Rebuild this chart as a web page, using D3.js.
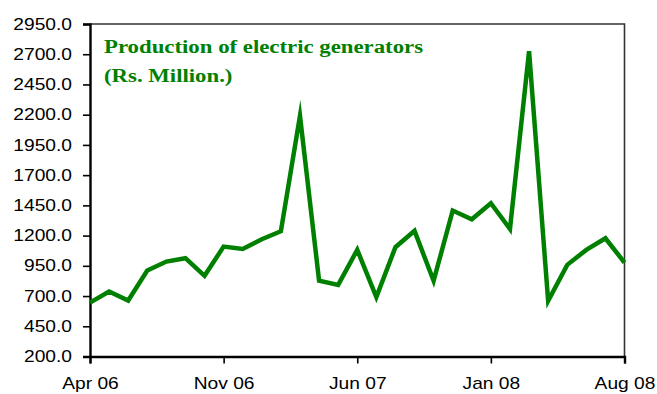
<!DOCTYPE html>
<html>
<head>
<meta charset="utf-8">
<script src="https://cdn.jsdelivr.net/npm/d3@7"></script>
<style>
  html, body { margin: 0; padding: 0; background: #fff; }
  svg { display: block; }
</style>
</head>
<body>
<svg id="chart" width="657" height="394"></svg>
<script>
// Monthly production of electric generators, Apr 2006 – Aug 2008 (Rs. Million)
const months = [
  "Apr 06","May 06","Jun 06","Jul 06","Aug 06","Sep 06","Oct 06","Nov 06","Dec 06",
  "Jan 07","Feb 07","Mar 07","Apr 07","May 07","Jun 07","Jul 07","Aug 07","Sep 07",
  "Oct 07","Nov 07","Dec 07","Jan 08","Feb 08","Mar 08","Apr 08","May 08","Jun 08",
  "Jul 08","Aug 08"
];
const production = [
  646, 737, 663, 911, 985, 1013, 867, 1109, 1090,
  1170, 1236, 2190, 828, 792, 1082, 691, 1104, 1239,
  826, 1407, 1335, 1468, 1255, 2725, 660, 958, 1082,
  1178, 977
];
const yTicks = [200, 450, 700, 950, 1200, 1450, 1700, 1950, 2200, 2450, 2700, 2950];
const xTickLabels = ["Apr 06", "Nov 06", "Jun 07", "Jan 08", "Aug 08"];
const titleLines = ["Production of electric generators", "(Rs. Million.)"];

const svg = d3.select("#chart");
const plotLeft = 90, plotRight = 624.5, plotTop = 24, plotBottom = 356.5;
const stretch = 1.2; // glyphs are drawn horizontally widened

const x = d3.scaleLinear().domain([0, months.length - 1]).range([plotLeft, plotRight]);
const y = d3.scaleLinear().domain([200, 2950]).range([plotBottom, plotTop]);

// frame: top and right edges
svg.append("path")
  .attr("d", `M${plotLeft},${plotTop}H${plotRight}V${plotBottom}`)
  .attr("fill", "none")
  .attr("stroke", "#333")
  .attr("stroke-width", 1.6);

// y axis
const yAxis = svg.append("g")
  .attr("transform", `translate(${plotLeft},0)`)
  .call(d3.axisLeft(y).tickValues(yTicks).tickFormat(d3.format(".1f")).tickSize(7).tickPadding(11));
yAxis.select(".domain").attr("stroke", "#000").attr("stroke-width", 2.4);
yAxis.selectAll(".tick line").attr("stroke", "#000").attr("stroke-width", 1.6);
yAxis.selectAll(".tick text")
  .attr("font-family", "Liberation Sans, Arial, sans-serif")
  .attr("font-size", 16)
  .attr("fill", "#000")
  .attr("x", -18 / stretch)
  .attr("transform", `scale(${stretch},1)`);

// x axis
const xTickIdx = xTickLabels.map(l => months.indexOf(l));
const xAxis = svg.append("g")
  .attr("transform", `translate(0,${plotBottom})`)
  .call(d3.axisBottom(x).tickValues(xTickIdx).tickFormat(i => months[i]).tickSize(7).tickPadding(14));
xAxis.select(".domain").attr("stroke", "#000").attr("stroke-width", 2.4);
xAxis.selectAll(".tick line").attr("stroke", "#000").attr("stroke-width", 1.6);
xAxis.selectAll(".tick text")
  .attr("font-family", "Liberation Sans, Arial, sans-serif")
  .attr("font-size", 16)
  .attr("fill", "#000")
  .attr("transform", `scale(${stretch},1)`);

// production line
svg.append("path")
  .datum(production)
  .attr("fill", "none")
  .attr("stroke", "#008000")
  .attr("stroke-width", 4.5)
  .attr("stroke-linejoin", "miter")
  .attr("stroke-miterlimit", 10)
  .attr("d", d3.line().x((d, i) => x(i)).y(d => y(d)));

// title
svg.append("g")
  .attr("transform", `translate(104,0) scale(${stretch},1)`)
  .selectAll("text")
  .data(titleLines)
  .join("text")
  .attr("x", 0)
  .attr("y", (d, i) => 53 + i * 29)
  .attr("font-family", "Liberation Serif, Times New Roman, serif")
  .attr("font-weight", "bold")
  .attr("font-size", 19)
  .attr("fill", "#008000")
  .text(d => d);
</script>
</body>
</html>
